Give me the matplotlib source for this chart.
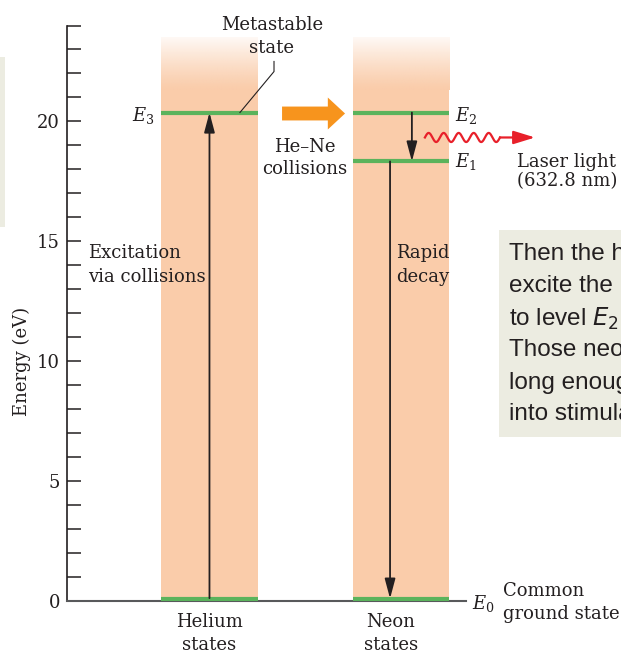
import numpy as np
import matplotlib
matplotlib.use("Agg")
import matplotlib.pyplot as plt
from matplotlib.patches import Rectangle

# ---- data (energies in eV) ----
columns = ["Helium\nstates", "Neon\nstates"]
E0 = 0.0
E1 = 18.33
E2 = 20.37          # neon upper laser level
E3 = 20.37          # helium metastable state
band_solid_top = 21.3
band_top = 23.5
yticks = list(range(0, 25))
ytick_labels = [str(v) if v % 5 == 0 else "" for v in yticks]
box_lines = ["Then the helium", "excite the neon", "to level $E_2$ by",
             "Those neon atoms", "long enough to", "into stimulated"]

# ---- styles ----
PEACH = "#FACCAA"
GREEN = "#5BB35C"
ORANGE = "#F7941D"
RED = "#E8202A"
INK = "#231F20"
BOXC = "#ECECE1"
FS = 13

plt.rcParams["font.family"] = "DejaVu Serif"

fig = plt.figure(figsize=(6.21, 6.53), dpi=100)

# cropped side boxes from the page
fig.patches.append(Rectangle((0, 0.652), 5 / 621, 0.261, transform=fig.transFigure,
                             facecolor=BOXC, edgecolor="none", zorder=0))
fig.patches.append(Rectangle((0.8035, 0.331), 0.2, 0.317, transform=fig.transFigure,
                             facecolor=BOXC, edgecolor="none", zorder=0))

ax = fig.add_axes([67 / 621, 52 / 653, 554 / 621, 575.5 / 653])
ax.set_zorder(2)
ax.patch.set_visible(False)
for s in ["top", "right"]:
    ax.spines[s].set_visible(False)
ax.spines["left"].set_bounds(0, 24)
ax.spines["left"].set_color(INK)
ax.spines["left"].set_linewidth(1.2)
ax.spines["bottom"].set_bounds(-0.744, 1.339)
ax.spines["bottom"].set_color("#58595B")
ax.spines["bottom"].set_linewidth(1.5)
ax.set_xticks([])
ax.set_yticks(yticks)
ax.set_yticklabels(ytick_labels)
ax.tick_params(axis="y", direction="in", length=10, width=1.1, pad=5,
               labelsize=FS, colors=INK)

# energy bands with a fading top
hw = 0.253
centers = [0, 1]
ax.bar(centers, band_solid_top, width=2 * hw, color=PEACH, zorder=1)
rgb = matplotlib.colors.to_rgb(PEACH)
alpha = 1.0 - 0.88 * np.linspace(0, 1, 60) ** 1.2
grad = np.zeros((60, 1, 4))
grad[:, 0, :3] = rgb
grad[:, 0, 3] = alpha
for c in centers:
    ax.imshow(grad, extent=(c - hw, c + hw, band_solid_top - 0.01, band_top),
              origin="lower", aspect="auto", zorder=1, interpolation="bilinear")
ax.set_xlim(-0.744, 2.149)
ax.set_ylim(0, 24)

# levels
ax.hlines([E3], 0 - hw, 0 + hw, colors=GREEN, lw=3, zorder=3)
ax.hlines([E2, E1], 1 - hw, 1 + hw, colors=GREEN, lw=3, zorder=3)
ax.hlines([E0 + 0.08, E0 + 0.08], [0 - hw, 1 - hw], [0 + hw, 1 + hw],
          colors=GREEN, lw=3, zorder=3)

# transitions
ap = dict(arrowstyle="-|>,head_length=0.6,head_width=0.16", mutation_scale=20,
          color=INK, lw=1.3, shrinkA=0, shrinkB=0)
ax.annotate("", xy=(0, E3), xytext=(0, E0 + 0.12), arrowprops=ap, zorder=4)
ax.annotate("", xy=(1.057, E1), xytext=(1.057, E2), arrowprops=ap, zorder=4)
ax.annotate("", xy=(0.943, E0 + 0.1), xytext=(0.943, E1), arrowprops=ap, zorder=4)

# He-Ne energy transfer arrow
ax.annotate("", xy=(0.708, 20.33), xytext=(0.379, 20.33),
            arrowprops=dict(arrowstyle="simple,head_length=0.62,head_width=1.15,tail_width=0.5",
                            mutation_scale=20, fc=ORANGE, ec="none", shrinkA=0, shrinkB=0))

# emitted photon
xw = np.linspace(1.125, 1.517, 300)
yw = 19.33 + 0.19 * np.sin(2 * np.pi * 5 * (xw - 1.125) / (1.517 - 1.125))
ax.plot(xw, yw, color=RED, lw=1.6, zorder=4, clip_on=False)
ax.annotate("", xy=(1.70, 19.33), xytext=(1.517, 19.33),
            arrowprops=dict(arrowstyle="-|>,head_length=0.65,head_width=0.2",
                            mutation_scale=20, color=RED, lw=1.6, shrinkA=0, shrinkB=0),
            zorder=4)

# metastable leader line
ax.plot([0.337, 0.337, 0.159], [22.5, 22.08, E3], color=INK, lw=0.8, zorder=4,
        clip_on=False)

# ---- labels ----
def txt(x, y, s, ha="left", **kw):
    ax.text(x, y, s, ha=ha, va="baseline", fontsize=FS, color=INK,
            clip_on=False, **kw)

txt(0.326, 23.80, "Metastable", ha="center")
txt(0.326, 22.86, "state", ha="center")
txt(0.499, 18.74, "He\u2013Ne", ha="center")
txt(0.499, 17.82, "collisions", ha="center")
txt(-0.634, 14.32, "Excitation")
txt(-0.634, 13.32, "via collisions")
txt(0.974, 14.32, "Rapid")
txt(0.974, 13.32, "decay")
txt(1.606, 18.08, "Laser light")
txt(1.606, 17.29, "(632.8 nm)")
txt(1.533, 0.229, "Common")
txt(1.533, -0.771, "ground state")
for c, lab, xl in zip(centers, columns, [0.0, 0.948]):
    l1, l2 = lab.split("\n")
    txt(xl, -1.105, l1, ha="center")
    txt(xl, -2.03, l2, ha="center")

txt(-0.285, 20.0, "$E_3$", ha="right", math_fontfamily="dejavuserif")
txt(1.282, 20.0, "$E_2$", math_fontfamily="dejavuserif")
txt(1.282, 18.08, "$E_1$", math_fontfamily="dejavuserif")
txt(1.371, -0.313, "$E_0$", math_fontfamily="dejavuserif")

ax.text(-0.979, 9.99, "Energy (eV)", rotation=90, ha="center", va="center",
        fontsize=FS, color=INK, clip_on=False)

box_y = [14.20, 12.87, 11.53, 10.20, 8.86, 7.53]
for y, s in zip(box_y, box_lines):
    ax.text(1.563, y, s, ha="left", va="baseline", fontsize=17.5, color=INK,
            family="Liberation Sans", math_fontfamily="dejavusans", clip_on=False)

fig.savefig("out.png", dpi=100)
